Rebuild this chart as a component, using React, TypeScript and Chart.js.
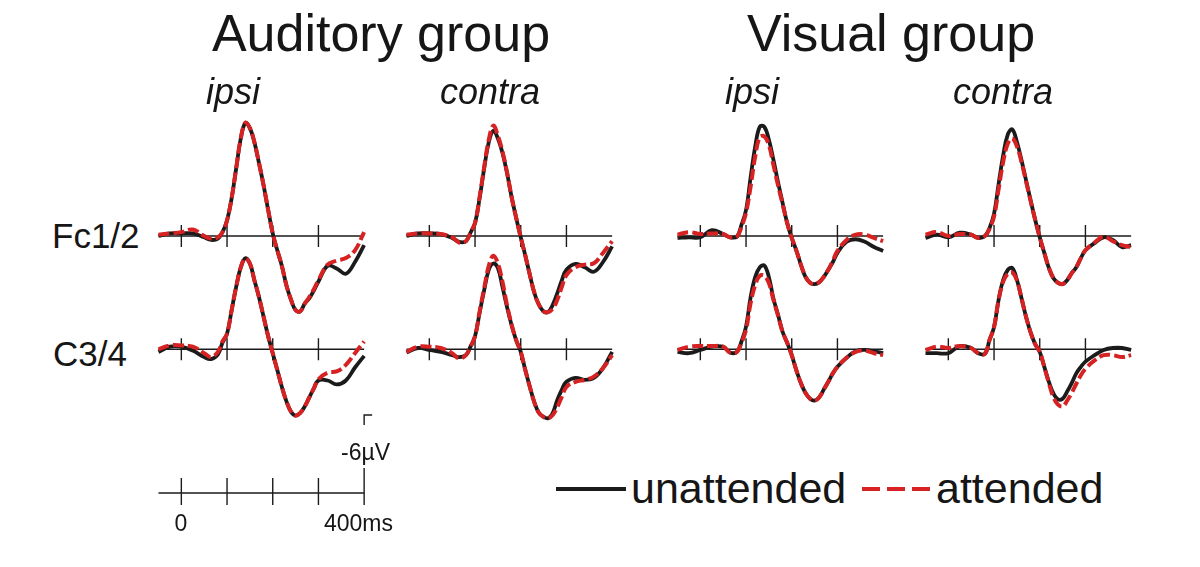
import React, { useEffect, useRef } from "react";
import { Chart, registerables } from "chart.js";

Chart.register(...registerables);

// ---------------- data ----------------
const TIMES_MS = [-50, -25, 0, 25, 50, 65, 80, 90, 100, 110, 120, 130, 140, 150, 160, 170, 180, 190, 200, 210, 220, 230, 240, 250, 260, 270, 280, 290, 300, 320, 340, 360, 380, 400];

// values in microvolts (negative plotted upward)
const AUD_IPSI_FC_UNATT = [0, -0.2, -0.2, -0.2, 0.1, 0.3, 0.2, -0.3, -1.2, -2.9, -5.2, -7.5, -8.7, -8.3, -7.2, -5.6, -3.9, -2.0, -0.2, 1.1, 2.3, 3.8, 4.9, 5.7, 5.8, 5.2, 4.8, 4.2, 3.5, 2.3, 2.5, 2.9, 2.0, 0.7];
const AUD_IPSI_FC_ATT = [-0.1, -0.2, -0.3, -0.5, 0, 0.2, 0.1, -0.3, -1.2, -2.9, -5.2, -7.5, -8.7, -8.3, -7.2, -5.6, -3.9, -2.0, -0.2, 1.1, 2.3, 3.8, 4.9, 5.7, 5.8, 5.2, 4.7, 4.1, 3.4, 2.2, 1.9, 1.7, 1.1, -0.3];
const AUD_IPSI_C_UNATT = [0.2, -0.2, -0.2, 0.1, 0.6, 0.75, 0.4, -0.5, -1.2, -3.0, -4.8, -6.3, -7.0, -6.6, -5.3, -4.0, -2.5, -1.0, 0.3, 1.6, 2.9, 4.0, 4.8, 5.1, 4.9, 4.4, 3.7, 3.0, 2.4, 2.4, 2.7, 2.4, 1.4, 0.5];
const AUD_IPSI_C_ATT = [0, -0.3, -0.3, -0.2, 0.3, 0.6, 0.2, -0.6, -1.2, -3.0, -4.8, -6.3, -7.0, -6.6, -5.3, -4.0, -2.5, -1.0, 0.3, 1.6, 2.9, 4.0, 4.8, 5.1, 4.9, 4.4, 3.7, 3.0, 2.3, 1.8, 1.7, 1.2, 0.3, -0.6];

const AUD_CONTRA_FC_UNATT = [0, -0.2, -0.2, -0.15, 0.15, 0.45, 0.4, -0.25, -1.0, -2.9, -5.2, -7.2, -8.1, -7.5, -6.4, -4.85, -3.0, -1.4, 0.1, 1.5, 3.0, 4.4, 5.3, 5.8, 5.85, 5.3, 4.4, 3.4, 2.6, 2.15, 2.4, 2.75, 2.0, 0.8];
const AUD_CONTRA_FC_ATT = [-0.1, -0.2, -0.2, -0.15, 0.1, 0.5, 0.4, -0.25, -1.0, -3.0, -5.3, -7.4, -8.5, -7.7, -6.5, -4.9, -3.0, -1.4, 0.1, 1.5, 3.0, 4.4, 5.3, 5.8, 5.85, 5.6, 4.9, 3.9, 3.0, 2.4, 2.2, 2.1, 1.3, 0.4];
const AUD_CONTRA_C_UNATT = [0.25, -0.1, 0.05, 0.2, 0.45, 0.6, 0.45, -0.2, -1.0, -2.8, -4.55, -6.1, -6.6, -6.25, -4.8, -3.25, -1.85, -0.7, 0.2, 1.6, 2.9, 4.1, 4.9, 5.2, 5.3, 4.9, 3.9, 3.1, 2.5, 2.2, 2.35, 2.2, 1.45, 0.2];
const AUD_CONTRA_C_ATT = [0.2, -0.2, -0.2, -0.1, 0.3, 0.7, 0.45, -0.2, -1.0, -2.9, -4.7, -6.4, -7.2, -6.6, -5.2, -3.4, -1.9, -0.7, 0.2, 1.6, 2.9, 4.1, 4.9, 5.2, 5.3, 5.05, 4.45, 3.65, 2.9, 2.5, 2.35, 2.1, 1.45, 0.45];

const VIS_IPSI_FC_UNATT = [0.15, 0.1, 0.1, -0.45, -0.15, 0.1, 0.05, -0.85, -2.0, -4.5, -6.85, -8.4, -8.4, -7.4, -5.85, -4.15, -2.55, -1.0, 0.15, 1.1, 2.2, 3.15, 3.6, 3.7, 3.55, 3.15, 2.6, 2.0, 1.3, 0.45, 0.25, 0.45, 0.85, 1.15];
const VIS_IPSI_FC_ATT = [-0.1, -0.3, -0.15, -0.2, -0.15, 0.1, 0.05, -0.7, -1.8, -3.8, -6.1, -7.6, -7.65, -7.0, -5.45, -3.9, -2.45, -1.0, 0.15, 1.1, 2.2, 3.1, 3.6, 3.7, 3.55, 3.15, 2.6, 1.9, 1.15, 0.3, -0.1, -0.1, 0.15, 0.4];
const VIS_IPSI_C_UNATT = [0.2, 0.3, 0.05, -0.2, -0.2, 0.25, 0.2, -0.6, -1.75, -4.0, -5.55, -6.3, -6.45, -5.55, -3.9, -2.65, -1.35, -0.5, 0.45, 1.6, 2.6, 3.35, 3.8, 3.95, 3.7, 3.1, 2.5, 1.85, 1.35, 0.65, 0.15, 0.05, 0.15, 0.3];
const VIS_IPSI_C_ATT = [0.05, -0.2, -0.25, -0.25, -0.2, 0.25, 0.2, -0.5, -1.5, -3.55, -4.95, -5.65, -5.65, -5.1, -3.8, -2.6, -1.35, -0.5, 0.45, 1.6, 2.6, 3.35, 3.8, 3.95, 3.7, 3.1, 2.5, 1.85, 1.35, 0.65, 0.2, 0.1, 0.3, 0.45];

const VIS_CONTRA_FC_UNATT = [0.15, -0.1, 0.1, -0.25, -0.1, 0.15, 0, -0.6, -1.7, -4.0, -6.2, -7.8, -8.2, -7.25, -5.85, -4.3, -2.75, -1.25, 0.1, 1.3, 2.45, 3.25, 3.6, 3.7, 3.4, 2.85, 2.4, 1.7, 1.1, 0.55, 0.1, 0.3, 0.85, 0.7];
const VIS_CONTRA_FC_ATT = [-0.1, -0.3, 0, -0.15, -0.1, 0.15, 0, -0.55, -1.5, -3.6, -5.7, -7.1, -7.5, -6.9, -5.7, -4.2, -2.7, -1.25, 0.1, 1.3, 2.45, 3.25, 3.6, 3.7, 3.4, 2.85, 2.4, 1.7, 1.1, 0.5, 0.05, 0.4, 0.7, 0.85];
const VIS_CONTRA_C_UNATT = [0.3, 0.3, 0.3, -0.25, -0.1, 0.3, 0.35, -0.7, -1.7, -3.8, -5.35, -6.1, -6.25, -5.35, -3.95, -2.5, -1.3, -0.4, 0.2, 1.35, 2.5, 3.4, 3.85, 3.8, 3.25, 2.6, 1.85, 1.35, 0.95, 0.45, 0.05, -0.1, -0.1, 0.05];
const VIS_CONTRA_C_ATT = [0.05, -0.2, -0.1, -0.25, -0.1, 0.3, 0.35, -0.7, -1.7, -3.8, -5.2, -5.8, -5.9, -5.3, -3.95, -2.5, -1.3, -0.4, 0.2, 1.35, 2.6, 3.7, 4.25, 4.4, 3.95, 3.35, 2.65, 2.0, 1.5, 0.85, 0.45, 0.45, 0.6, 0.45];

const GROUP_TITLES = ["Auditory group", "Visual group"];
const SIDE_TITLES = ["ipsi", "contra"];
const SITE_LABELS = ["Fc1/2", "C3/4"];
const AXIS_TICKS_MS = [0, 100, 200, 300];
const SCALE_TICKS_MS = [0, 100, 200, 300, 400];
const SCALE_UV = -6;
const SCALE_LABEL_START = "0";
const SCALE_LABEL_END = "400ms";
const SCALE_LABEL_UV = "-6µV";
const LEGEND_LABELS = ["unattended", "attended"];

// ---------------- layout & style ----------------
const FONT = '"Liberation Sans", Arial, Helvetica, sans-serif';
const BLACK = "#1b1b1b";
const RED = "#d62222";
const TEXT = "#161616";
const PX_PER_MS = 0.457;
const PX_PER_UV = 13;
const COL_X0 = [181, 429.5, 700, 948.5];
const ROW_BASE = [236, 349.3];
const T_MIN = -62;
const CANVAS_W = 216;
const ABOVE = 130;
const BELOW = 100;

const PANELS = [
  { col: 0, row: 0, un: AUD_IPSI_FC_UNATT, at: AUD_IPSI_FC_ATT },
  { col: 0, row: 1, un: AUD_IPSI_C_UNATT, at: AUD_IPSI_C_ATT },
  { col: 1, row: 0, un: AUD_CONTRA_FC_UNATT, at: AUD_CONTRA_FC_ATT },
  { col: 1, row: 1, un: AUD_CONTRA_C_UNATT, at: AUD_CONTRA_C_ATT },
  { col: 2, row: 0, un: VIS_IPSI_FC_UNATT, at: VIS_IPSI_FC_ATT },
  { col: 2, row: 1, un: VIS_IPSI_C_UNATT, at: VIS_IPSI_C_ATT },
  { col: 3, row: 0, un: VIS_CONTRA_FC_UNATT, at: VIS_CONTRA_FC_ATT },
  { col: 3, row: 1, un: VIS_CONTRA_C_UNATT, at: VIS_CONTRA_C_ATT },
];

const axisPlugin = {
  id: "erpAxis",
  beforeDatasetsDraw(chart: any) {
    const { ctx, scales } = chart;
    const x = scales.x;
    const y = scales.y;
    const y0 = y.getPixelForValue(0);
    ctx.save();
    ctx.strokeStyle = BLACK;
    ctx.lineWidth = 1.4;
    ctx.beginPath();
    ctx.moveTo(x.getPixelForValue(TIMES_MS[0]), y0);
    ctx.lineTo(x.getPixelForValue(TIMES_MS[TIMES_MS.length - 1]), y0);
    for (const t of AXIS_TICKS_MS) {
      const px = x.getPixelForValue(t);
      ctx.moveTo(px, y0 - 11);
      ctx.lineTo(px, y0 + 11);
    }
    ctx.stroke();
    ctx.restore();
  },
};

const scaleBarPlugin = {
  id: "scaleBar",
  afterDraw(chart: any) {
    const { ctx, scales } = chart;
    const x = scales.x;
    const y = scales.y;
    const y0 = y.getPixelForValue(0);
    const tEnd = SCALE_TICKS_MS[SCALE_TICKS_MS.length - 1];
    const xe = x.getPixelForValue(tEnd);
    const yTop = y.getPixelForValue(SCALE_UV);
    ctx.save();
    ctx.strokeStyle = BLACK;
    ctx.lineWidth = 1.4;
    ctx.beginPath();
    ctx.moveTo(x.getPixelForValue(TIMES_MS[0]), y0);
    ctx.lineTo(xe, y0);
    for (const t of SCALE_TICKS_MS.slice(0, -1)) {
      const px = x.getPixelForValue(t);
      ctx.moveTo(px, y0 - 15);
      ctx.lineTo(px, y0 + 12);
    }
    // 400 ms tick continuing into the amplitude bar (broken by its label)
    ctx.moveTo(xe, y0 + 12);
    ctx.lineTo(xe, y0 - 25);
    ctx.moveTo(xe, yTop + 10);
    ctx.lineTo(xe, yTop);
    ctx.lineTo(xe + 8, yTop);
    ctx.stroke();
    ctx.restore();
  },
};

function baseOptions(xMin: number, xMax: number, yMin: number, yMax: number) {
  return {
    responsive: false,
    maintainAspectRatio: false,
    animation: false as const,
    devicePixelRatio: 1,
    events: [] as any[],
    layout: { padding: 0 },
    plugins: { legend: { display: false }, tooltip: { enabled: false } },
    scales: {
      x: { type: "linear" as const, display: false, min: xMin, max: xMax },
      y: { type: "linear" as const, display: false, min: yMin, max: yMax, reverse: true },
    },
  };
}

function ChartCanvas({ left, top, width, height, build }: { left: number; top: number; width: number; height: number; build: () => any }) {
  const ref = useRef<HTMLCanvasElement | null>(null);
  useEffect(() => {
    const chart = new Chart(ref.current as HTMLCanvasElement, build());
    return () => chart.destroy();
  }, []);
  return (
    <canvas
      ref={ref}
      width={width}
      height={height}
      style={{ position: "absolute", left, top, width, height }}
    />
  );
}

function Label({ text, x, baseline, size, center = false, italic = false }: { text: string; x: number; baseline: number; size: number; center?: boolean; italic?: boolean }) {
  const style: React.CSSProperties = {
    position: "absolute",
    top: baseline - 0.8465 * size,
    fontFamily: FONT,
    fontSize: size,
    lineHeight: `${size}px`,
    fontStyle: italic ? "italic" : "normal",
    whiteSpace: "nowrap",
    color: TEXT,
  };
  if (center) {
    style.left = x - 300;
    style.width = 600;
    style.textAlign = "center";
  } else {
    style.left = x;
  }
  return <div style={style}>{text}</div>;
}

export default function App() {
  const xMax = T_MIN + CANVAS_W / PX_PER_MS;
  const H = ABOVE + BELOW;
  const scaleBase = 493;
  const scaleTop = 400;
  const scaleH = 125;
  return (
    <div style={{ position: "fixed", left: 0, top: 0, width: 1200, height: 567, background: "#fff", overflow: "hidden" }}>
      {PANELS.map((p, i) => {
        const base = ROW_BASE[p.row];
        const top = Math.round(base - ABOVE);
        return (
          <ChartCanvas
            key={i}
            left={Math.round(COL_X0[p.col] + T_MIN * PX_PER_MS)}
            top={top}
            width={CANVAS_W}
            height={H}
            build={() => ({
              type: "line",
              data: {
                datasets: [
                  {
                    label: LEGEND_LABELS[1],
                    data: TIMES_MS.map((t, k) => ({ x: t, y: p.at[k] })),
                    borderColor: RED,
                    borderWidth: 4,
                    borderDash: [11, 4],
                    pointRadius: 0,
                    tension: 0.4,
                    fill: false,
                    order: 0,
                    clip: false,
                  },
                  {
                    label: LEGEND_LABELS[0],
                    data: TIMES_MS.map((t, k) => ({ x: t, y: p.un[k] })),
                    borderColor: BLACK,
                    borderWidth: 3.8,
                    pointRadius: 0,
                    tension: 0.4,
                    fill: false,
                    order: 1,
                    clip: false,
                  },
                ],
              },
              options: baseOptions(T_MIN, xMax, -(base - top) / PX_PER_UV, (top + H - base) / PX_PER_UV),
              plugins: [axisPlugin],
            })}
          />
        );
      })}

      <ChartCanvas
        left={Math.round(COL_X0[0] + T_MIN * PX_PER_MS)}
        top={scaleTop}
        width={CANVAS_W + 20}
        height={scaleH}
        build={() => ({
          type: "line",
          data: { datasets: [] },
          options: baseOptions(T_MIN, T_MIN + (CANVAS_W + 20) / PX_PER_MS, -(scaleBase - scaleTop) / PX_PER_UV, (scaleH - (scaleBase - scaleTop)) / PX_PER_UV),
          plugins: [scaleBarPlugin],
        })}
      />

      <Label text={GROUP_TITLES[0]} x={381} baseline={51} size={52} center />
      <Label text={GROUP_TITLES[1]} x={891} baseline={51} size={52} center />
      <Label text={SIDE_TITLES[0]} x={233} baseline={104} size={36} center italic />
      <Label text={SIDE_TITLES[1]} x={490} baseline={104} size={36} center italic />
      <Label text={SIDE_TITLES[0]} x={752} baseline={104} size={36} center italic />
      <Label text={SIDE_TITLES[1]} x={1003} baseline={104} size={36} center italic />
      <Label text={SITE_LABELS[0]} x={52} baseline={248} size={35} />
      <Label text={SITE_LABELS[1]} x={53} baseline={366} size={35} />

      <Label text={SCALE_LABEL_START} x={181} baseline={531} size={23} center />
      <Label text={SCALE_LABEL_END} x={324} baseline={531} size={23} />
      <Label text={SCALE_LABEL_UV} x={341} baseline={460} size={23} />

      <div style={{ position: "absolute", left: 556, top: 487, width: 70, height: 4, background: BLACK }} />
      <Label text={LEGEND_LABELS[0]} x={631} baseline={503} size={43} />
      {[0, 1, 2].map((k) => (
        <div key={k} style={{ position: "absolute", left: 862 + k * 25, top: 487, width: 18, height: 4, background: RED }} />
      ))}
      <Label text={LEGEND_LABELS[1]} x={936} baseline={503} size={43} />
    </div>
  );
}
